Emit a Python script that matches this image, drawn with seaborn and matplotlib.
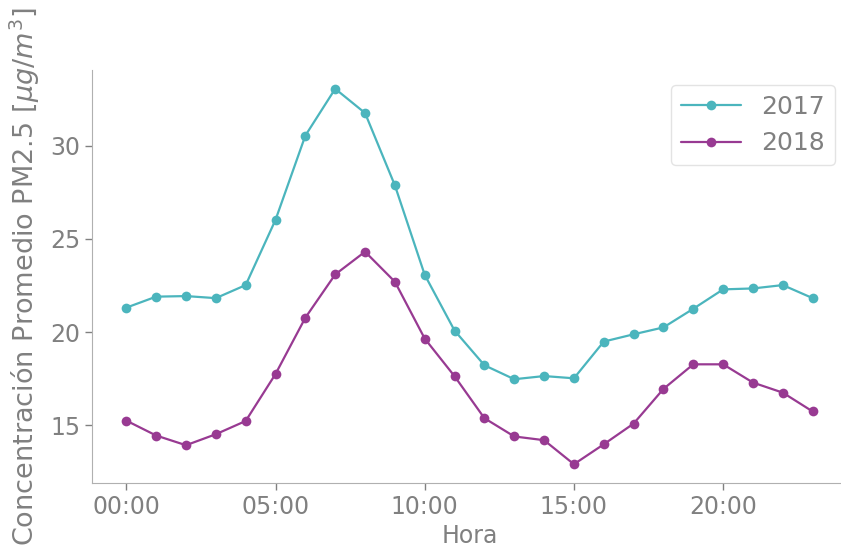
import numpy as np
import pandas as pd
import matplotlib
matplotlib.use("Agg")
import matplotlib.pyplot as plt
from matplotlib.ticker import FuncFormatter
import seaborn as sns

# hourly averages
horas = list(range(24))
pm25_2017 = [21.31, 21.90, 21.93, 21.82, 22.52, 26.02, 30.54, 33.05, 31.75, 27.87,
             23.07, 20.08, 18.22, 17.47, 17.64, 17.52, 19.49, 19.88, 20.25, 21.25,
             22.29, 22.34, 22.52, 21.82]
pm25_2018 = [15.25, 14.45, 13.93, 14.52, 15.23, 17.75, 20.77, 23.09, 24.31, 22.70,
             19.65, 17.63, 15.38, 14.40, 14.20, 12.91, 13.98, 15.09, 16.95, 18.27,
             18.27, 17.29, 16.75, 15.74]
anios = ["2017", "2018"]
colores = ["#4bb5bd", "#983a92"]
tick_horas = [0, 5, 10, 15, 20]

df = pd.DataFrame({
    "Hora": horas * 2,
    "pm": pm25_2017 + pm25_2018,
    "anio": [anios[0]] * 24 + [anios[1]] * 24,
})

sns.set_style("ticks")
gris = "#808080"
plt.rcParams.update({
    "text.color": gris,
    "axes.labelcolor": gris,
    "xtick.color": gris,
    "ytick.color": gris,
    "axes.edgecolor": "#b0b0b0",
})

fig = plt.figure(figsize=(8.41, 5.5), dpi=100)
ax = fig.add_axes([0.1094, 0.1218, 0.8977, 0.7509])

sns.lineplot(data=df, x="Hora", y="pm", hue="anio", palette=colores,
             marker="o", markersize=7, markeredgewidth=0, linewidth=1.6, ax=ax)

ax.set_xticks(tick_horas)
ax.xaxis.set_major_formatter(FuncFormatter(lambda v, p: "%02d:00" % int(v)))
ax.set_yticks([15, 20, 25, 30])
ax.tick_params(labelsize=17, length=5, width=1)
ax.set_xlabel("Hora", fontsize=17, labelpad=4)
ax.set_ylabel(r"Concentración Promedio PM2.5 [$\mu g/m^3$]", fontsize=19.5, labelpad=6)
sns.despine(ax=ax)

leg = ax.legend(loc="upper right", bbox_to_anchor=(0.984, 0.964), borderaxespad=0,
                fontsize=18, frameon=True, handlelength=2.4)
leg.get_frame().set_edgecolor("#dddddd")

fig.savefig("out.png", dpi=100)
